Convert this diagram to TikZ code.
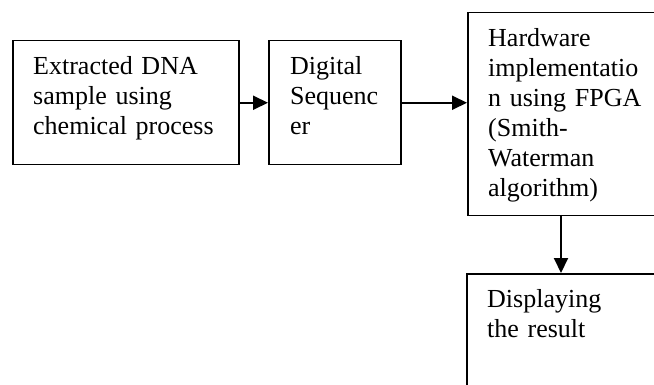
\documentclass[tikz,border=0pt]{standalone}
\usepackage{fontspec}
\setmainfont{Liberation Serif}
\usetikzlibrary{arrows.meta}
\begin{document}
\begin{tikzpicture}[x=1pt,y=-1pt,
  boxshape/.style={draw, line width=1.5pt, rectangle, inner sep=0pt, anchor=north west},
  boxtext/.style={anchor=base west, inner sep=0pt, align=left, text width=210pt,
    font=\fontsize{26}{30}\selectfont},
  conn/.style={line width=2pt, -{Triangle[length=15pt,width=14pt]}}]
\useasboundingbox (0,0) rectangle (654,385);
\clip (0,0) rectangle (654,385);
\node[boxshape, minimum width=226pt, minimum height=124pt] (b1) at (12,40) {};
\node[boxshape, minimum width=132pt, minimum height=124pt] (b2) at (268,40) {};
\node[boxshape, minimum width=213pt, minimum height=203pt] (b3) at (467,12) {};
\node[boxshape, minimum width=214pt, minimum height=150pt] (b4) at (466,273) {};
\node[boxtext] (t1) at (33,75) {Extracted DNA\\sample using\\chemical process};
\node[boxtext] (t2) at (290,75) {Digital\\Sequenc\\er};
\node[boxtext] (t3) at (488,47) {Hardware\\implementatio\\n using FPGA\\(Smith-\\Waterman\\algorithm)};
\node[boxtext] (t4) at (487,307) {Displaying\\the result};
\draw[conn] (b1.east) -- (b2.west);
\draw[conn] (b2.east) -- (b2.east -| b3.west);
\coordinate (c3) at (561,215);
\draw[conn] (c3) -- (c3 |- b4.north);
\end{tikzpicture}
\end{document}
